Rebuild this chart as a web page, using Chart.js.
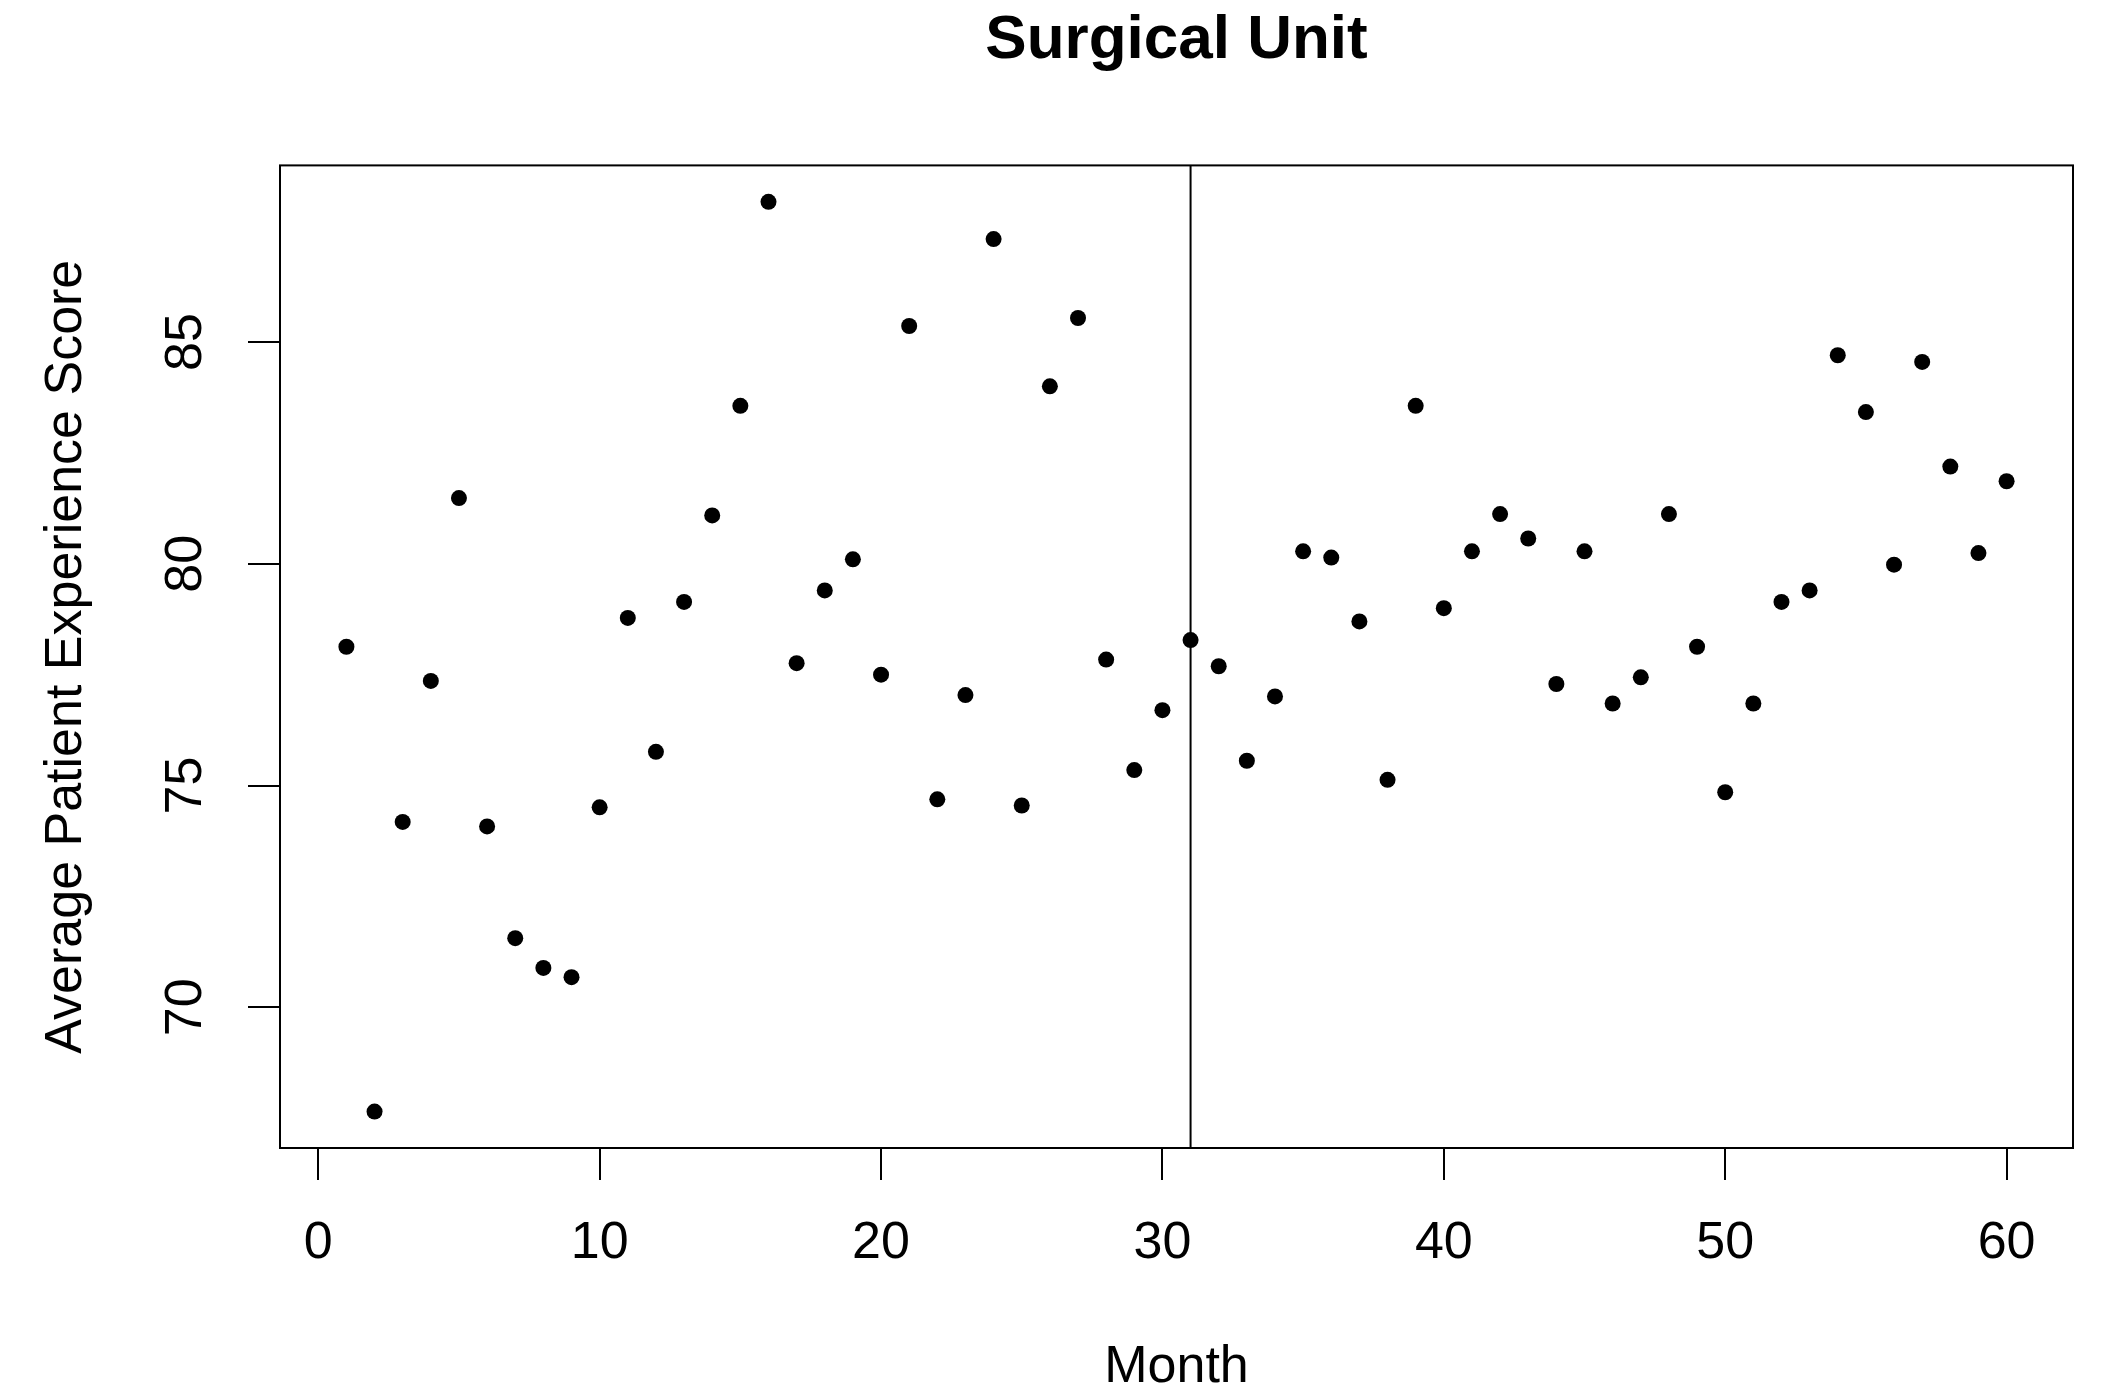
<!DOCTYPE html>
<html>
<head>
<meta charset="utf-8">
<title>Surgical Unit</title>
<script src="https://cdn.jsdelivr.net/npm/chart.js@4"></script>
<style>
  html, body { margin: 0; padding: 0; background: #fff; }
  canvas { display: block; }
</style>
</head>
<body>
<canvas id="chart" width="2103" height="1391"></canvas>
<script>
// Monthly average patient experience scores, surgical unit
const months = [
  1, 2, 3, 4, 5, 6, 7, 8, 9, 10,
  11, 12, 13, 14, 15, 16, 17, 18, 19, 20,
  21, 22, 23, 24, 25, 26, 27, 28, 29, 30,
  31, 32, 33, 34, 35, 36, 37, 38, 39, 40,
  41, 42, 43, 44, 45, 46, 47, 48, 49, 50,
  51, 52, 53, 54, 55, 56, 57, 58, 59, 60
];
const scores = [
  78.13, 67.65, 74.18, 77.36, 81.48, 74.08, 71.56, 70.89, 70.68, 74.51,
  78.78, 75.76, 79.14, 81.09, 83.56, 88.16, 77.76, 79.40, 80.10, 77.50,
  85.36, 74.69, 77.04, 87.32, 74.55, 84.00, 85.54, 77.84, 75.35, 76.70,
  78.28, 77.69, 75.56, 77.01, 80.28, 80.14, 78.70, 75.13, 83.56, 79.00,
  80.28, 81.12, 80.57, 77.29, 80.28, 76.85, 77.44, 81.12, 78.13, 74.85,
  76.85, 79.14, 79.40, 84.70, 83.42, 79.98, 84.55, 82.19, 80.24, 81.86
];
// Month at which the intervention started
const interventionMonth = 31;

const xTickValues = [0, 10, 20, 30, 40, 50, 60];
const yTickValues = [70, 75, 80, 85];

// Axis limits: data range widened by 4% on each side
function paddedRange(vals) {
  const lo = Math.min(...vals), hi = Math.max(...vals);
  const d = (hi - lo) * 0.04;
  return [lo - d, hi + d];
}
const [xMin, xMax] = paddedRange(months);
const [yMin, yMax] = paddedRange(scores);

const FONT = "'Liberation Sans', Arial, Helvetica, sans-serif";

// Box around the plotting region
const frame = {
  id: 'frame',
  afterDatasetsDraw(chart) {
    const { ctx, chartArea: a } = chart;
    ctx.save();
    ctx.strokeStyle = '#000';
    ctx.lineWidth = 2;
    ctx.strokeRect(a.left, a.top, a.right - a.left, a.bottom - a.top);
    ctx.restore();
  }
};

new Chart(document.getElementById('chart'), {
  type: 'scatter',
  data: {
    datasets: [
      {
        label: 'Score',
        data: months.map((m, i) => ({ x: m, y: scores[i] })),
        showLine: false,
        pointRadius: 8,
        pointHoverRadius: 8,
        pointBackgroundColor: '#000',
        pointBorderWidth: 0
      },
      {
        label: 'Intervention',
        data: [{ x: interventionMonth, y: yMin }, { x: interventionMonth, y: yMax }],
        showLine: true,
        borderColor: '#000',
        borderWidth: 2,
        pointRadius: 0
      }
    ]
  },
  options: {
    responsive: false,
    devicePixelRatio: 1,
    animation: false,
    layout: { padding: { left: 0, right: 30, top: 0, bottom: 0 } },
    plugins: {
      legend: { display: false },
      tooltip: { enabled: false },
      title: {
        display: true,
        fullSize: false,
        text: 'Surgical Unit',
        color: '#000',
        font: { family: FONT, size: 62, weight: 'bold', lineHeight: 1.2 },
        padding: { top: 4, bottom: 87 }
      }
    },
    scales: {
      x: {
        type: 'linear',
        position: 'bottom',
        min: xMin,
        max: xMax,
        afterBuildTicks: (s) => { s.ticks = xTickValues.map(v => ({ value: v })); },
        afterFit: (s) => { s.height = 243; },
        grid: { drawOnChartArea: false, drawTicks: true, tickLength: 32, lineWidth: 2, color: '#000' },
        border: { display: false },
        ticks: {
          color: '#000',
          font: { family: FONT, size: 52 },
          padding: 32,
          minRotation: 0,
          maxRotation: 0,
          autoSkip: false
        },
        title: {
          display: true,
          text: 'Month',
          color: '#000',
          font: { family: FONT, size: 52, lineHeight: 0.9 },
          padding: 0
        }
      },
      y: {
        type: 'linear',
        position: 'left',
        min: yMin,
        max: yMax,
        afterBuildTicks: (s) => { s.ticks = yTickValues.map(v => ({ value: v })); },
        afterFit: (s) => { s.width = 280; },
        grid: { drawOnChartArea: false, drawTicks: true, tickLength: 32, lineWidth: 2, color: '#000' },
        border: { display: false },
        ticks: {
          color: '#000',
          font: { family: FONT, size: 52 },
          padding: 32,
          minRotation: 90,
          maxRotation: 90,
          crossAlign: 'center',
          autoSkip: false
        },
        title: {
          display: true,
          text: 'Average Patient Experience Score',
          color: '#000',
          font: { family: FONT, size: 52, lineHeight: 1.2 },
          padding: { top: 35, bottom: 0 }
        }
      }
    }
  },
  plugins: [frame]
});
</script>
</body>
</html>
